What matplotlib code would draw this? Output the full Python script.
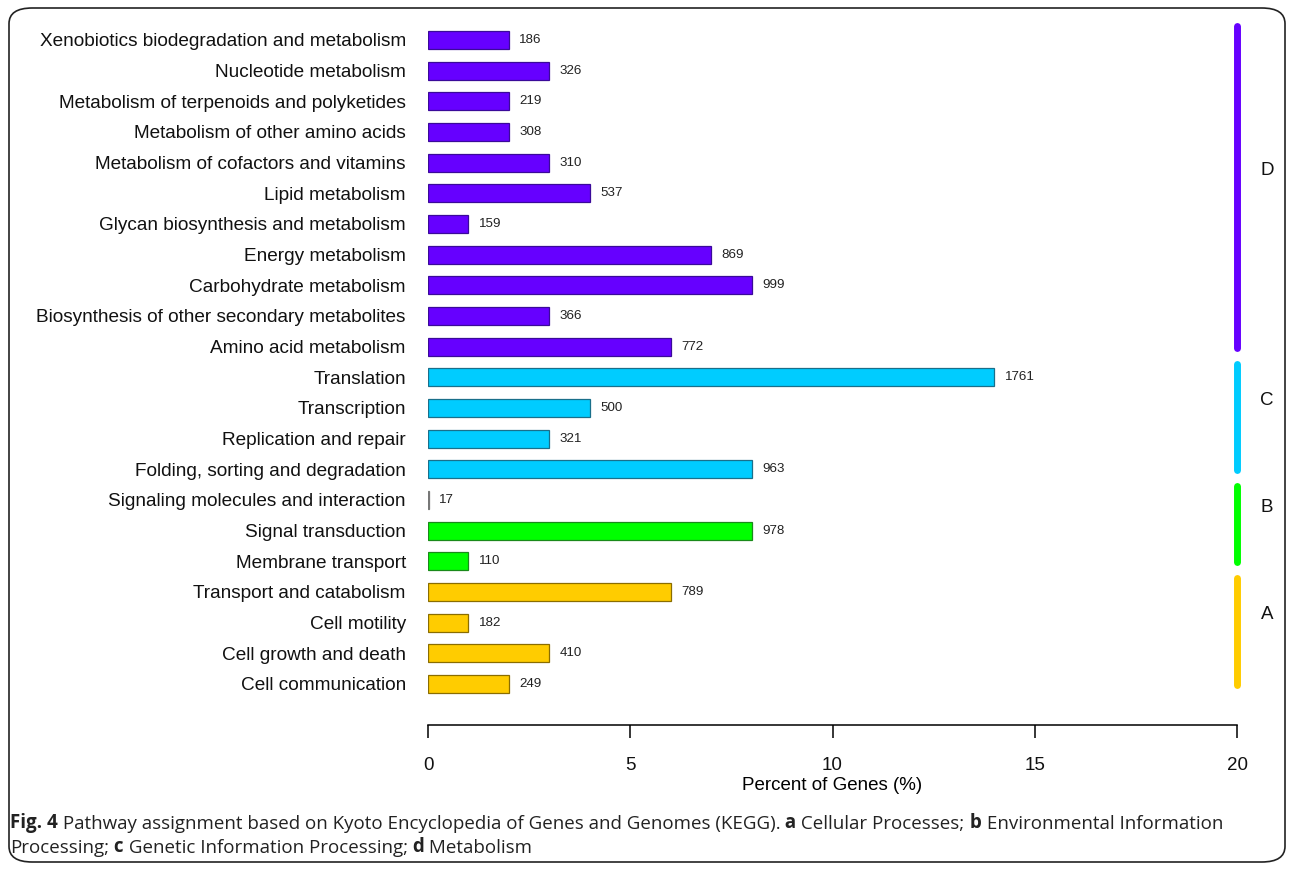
import matplotlib.pyplot as plt
from matplotlib.patches import FancyBboxPatch

# rows listed bottom to top
categories = [
    "Cell communication", "Cell growth and death", "Cell motility",
    "Transport and catabolism", "Membrane transport", "Signal transduction",
    "Signaling molecules and interaction", "Folding, sorting and degradation",
    "Replication and repair", "Transcription", "Translation",
    "Amino acid metabolism", "Biosynthesis of other secondary metabolites",
    "Carbohydrate metabolism", "Energy metabolism",
    "Glycan biosynthesis and metabolism", "Lipid metabolism",
    "Metabolism of cofactors and vitamins", "Metabolism of other amino acids",
    "Metabolism of terpenoids and polyketides", "Nucleotide metabolism",
    "Xenobiotics biodegradation and metabolism",
]
percent = [2, 3, 1, 6, 1, 8, 0.02, 8, 3, 4, 14, 6, 3, 8, 7, 1, 4, 3, 2, 2, 3, 2]
gene_counts = [249, 410, 182, 789, 110, 978, 17, 963, 321, 500, 1761,
               772, 366, 999, 869, 159, 537, 310, 308, 219, 326, 186]
groups = ["A"] * 4 + ["B"] * 3 + ["C"] * 4 + ["D"] * 11
group_names = ["A", "B", "C", "D"]
group_colors = {"A": "#FFCC00", "B": "#00FF00", "C": "#00CCFF", "D": "#6600FF"}
group_edges = {"A": "#8a6d00", "B": "#1a8a1a", "C": "#1a6f8a", "D": "#3a0a99"}
xticks = [0, 5, 10, 15, 20]

W, H = 1292, 869
fig = plt.figure(figsize=(W / 100, H / 100), dpi=100)
plt.rcParams["font.family"] = ["Liberation Sans", "DejaVu Sans"]

# axes placed so that x=0 -> 428px, x=20 -> 1237px, axis line at 725px
ax = fig.add_axes([428 / W, 1 - 725 / H, (1237 - 428) / W, (725 - 20) / H])
ypos = list(range(len(categories)))
row_px = (684 - 40) / 21.0
ax.set_ylim(-41 / row_px, 21 + 20 / row_px)
ax.set_xlim(0, 20)

colors = [group_colors[g] for g in groups]
edges = [group_edges[g] for g in groups]
edges[6] = "#777777"  # tiny bar shows only as a grey sliver
ax.barh(ypos, percent, height=0.58, color=colors, edgecolor=edges, linewidth=0.9)

for y, p, n in zip(ypos, percent, gene_counts):
    ax.text(p + 0.26, y, str(n), va="center", ha="left", fontsize=9.6, color="#222222")

ax.set_yticks(ypos)
ax.set_yticklabels(categories, fontsize=13.7, color="#111111")
ax.tick_params(axis="y", length=0, pad=16)
ax.set_xticks(xticks)
ax.set_xticklabels([str(t) for t in xticks], fontsize=13.5, color="#111111")
ax.tick_params(axis="x", direction="out", length=9, width=1.1, pad=14)
for s in ["top", "right", "left"]:
    ax.spines[s].set_visible(False)
ax.spines["bottom"].set_linewidth(1.1)
ax.set_xlabel("Percent of Genes (%)", fontsize=13.5, labelpad=2)

# group brackets on the right
for name in group_names:
    rows = [i for i, g in enumerate(groups) if g == name]
    lo, hi = min(rows), max(rows)
    ax.plot([20, 20], [lo - 0.03, hi + 0.45], color=group_colors[name], lw=5,
            solid_capstyle="round", clip_on=False)
    ax.text(20.74, (lo + hi) / 2 + 0.75, name, fontsize=13.5, ha="center",
            va="center", color="#111111", clip_on=False)

# rounded frame
frame = FancyBboxPatch((9 / W, 7 / H), (W - 16) / W, (H - 15) / H,
                       boxstyle="round,pad=0,rounding_size=0.018",
                       transform=fig.transFigure, fill=False, lw=1.2,
                       edgecolor="#222222")
fig.patches.append(frame)

# caption with bold letters
cap_font = ["Open Sans", "DejaVu Sans"]
cap_size = 13.5
line1 = [("Fig. 4", "bold"),
         (" Pathway assignment based on Kyoto Encyclopedia of Genes and Genomes (KEGG).", "normal"),
         (" a", "bold"), (" Cellular Processes;", "normal"),
         (" b", "bold"), (" Environmental Information", "normal")]
line2 = [("Processing;", "normal"), (" c", "bold"),
         (" Genetic Information Processing;", "normal"), (" d", "bold"),
         (" Metabolism", "normal")]


def chain(pieces, x, y):
    prev = fig.text(x, y, pieces[0][0], fontsize=cap_size, fontweight=pieces[0][1],
                    family=cap_font, color="#222222", va="bottom", ha="left")
    for txt, w in pieces[1:]:
        prev = fig.add_artist(plt.Annotation(
            txt, xy=(1, 0), xycoords=prev, va="bottom", ha="left",
            fontsize=cap_size, fontweight=w, family=cap_font, color="#222222"))


chain(line1, 10 / W, 1 - 833 / H)
chain(line2, 10 / W, 1 - 857 / H)

fig.savefig("out.png", dpi=100)
